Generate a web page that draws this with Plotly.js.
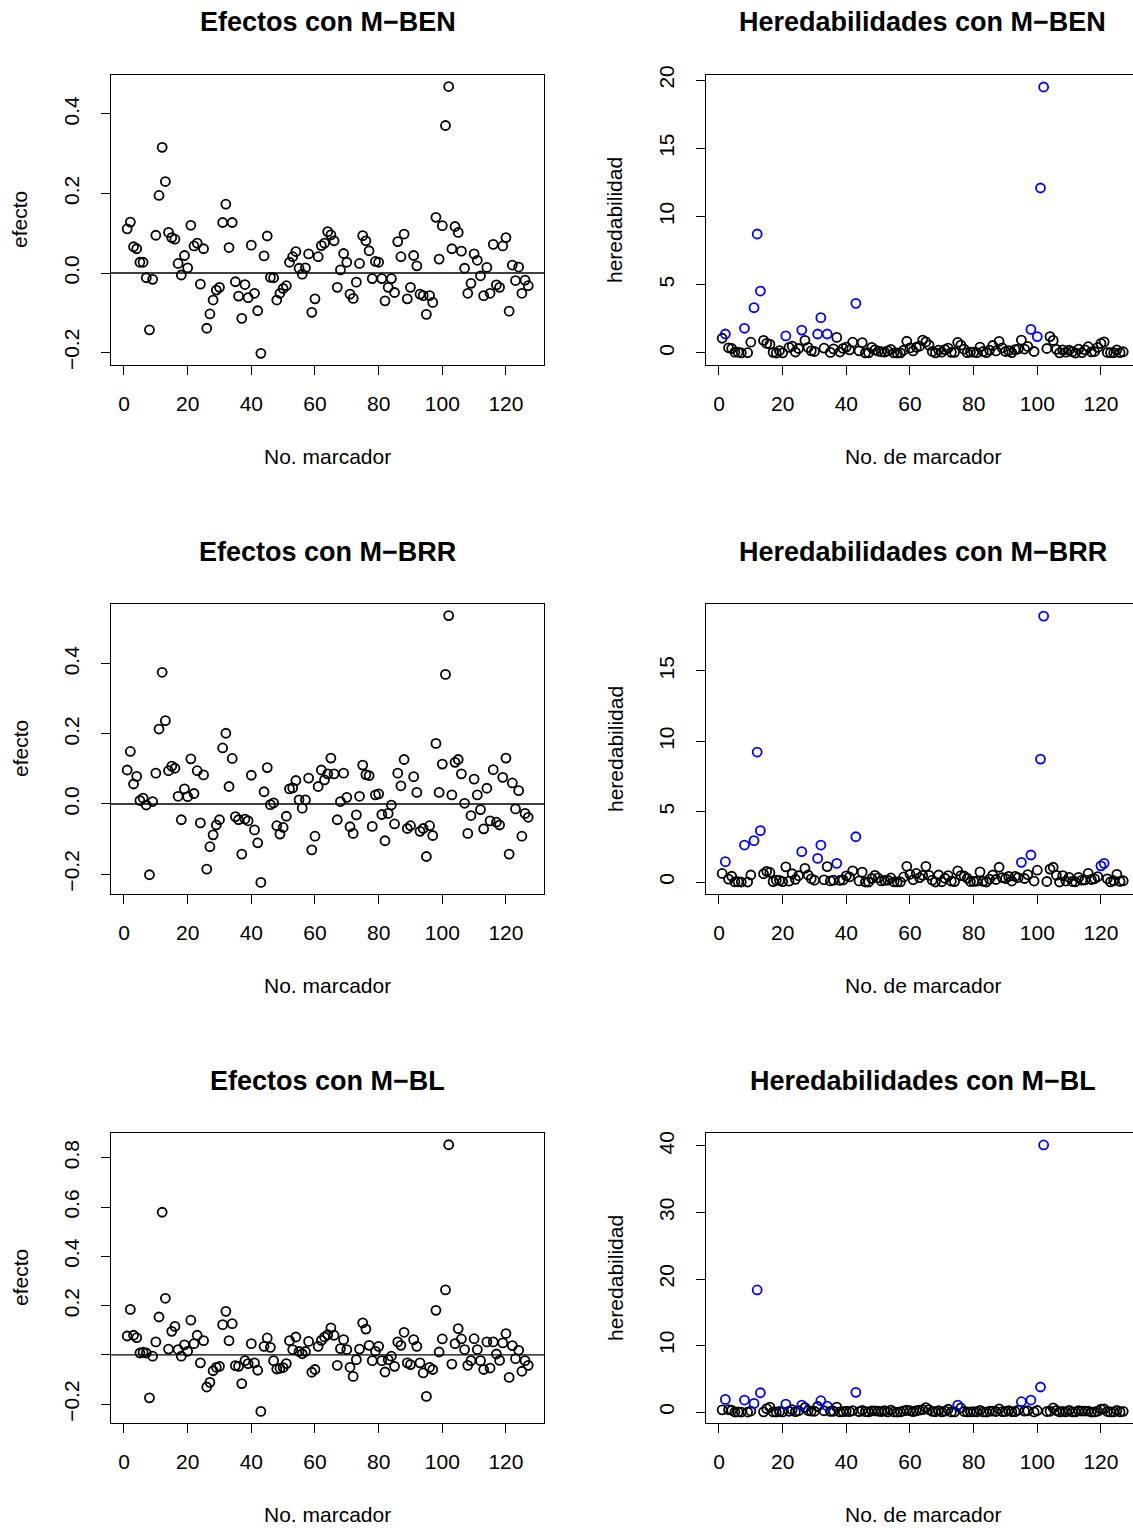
<!DOCTYPE html>
<html><head><meta charset="utf-8">
<script src="https://cdn.plot.ly/plotly-3.0.1.min.js"></script>
<style>body{margin:0;background:#fff}#plot{width:1133px;height:1528px}</style>
</head><body><div id="plot"></div>
<script>
// Marker index (categories)
const nMarcadores = 127;
const marcador = [];
for (let i = 1; i <= nMarcadores; i++) marcador.push(i);

// Effects
const efBEN = [0.111,0.128,0.066,0.061,0.027,0.027,-0.012,-0.143,-0.016,0.095,
0.195,0.316,0.230,0.102,0.089,0.085,0.024,-0.005,0.044,0.013,
0.120,0.068,0.075,-0.028,0.061,-0.139,-0.103,-0.068,-0.043,-0.036,
0.127,0.173,0.064,0.127,-0.022,-0.058,-0.114,-0.029,-0.062,0.070,
-0.051,-0.095,-0.202,0.043,0.093,-0.011,-0.012,-0.068,-0.051,-0.039,
-0.032,0.027,0.041,0.054,0.012,-0.003,0.013,0.048,-0.099,-0.065,
0.041,0.069,0.075,0.104,0.096,0.081,-0.036,0.008,0.049,0.027,
-0.053,-0.064,-0.023,0.024,0.094,0.081,0.056,-0.014,0.029,0.027,
-0.014,-0.070,-0.036,-0.014,-0.049,0.079,0.041,0.098,-0.065,-0.036,
0.044,0.018,-0.053,-0.057,-0.104,-0.057,-0.074,0.140,0.035,0.119,
0.371,0.469,0.061,0.117,0.102,0.055,0.012,-0.051,-0.026,0.048,
0.032,-0.007,-0.057,0.014,-0.051,0.072,-0.030,-0.036,0.068,0.089,
-0.096,0.020,-0.019,0.015,-0.051,-0.018,-0.032];

const efBRR = [0.097,0.150,0.057,0.079,0.010,0.017,-0.003,-0.202,0.007,0.088,
0.214,0.376,0.238,0.095,0.108,0.102,0.022,-0.045,0.043,0.021,
0.129,0.030,0.095,-0.054,0.083,-0.186,-0.122,-0.088,-0.060,-0.045,
0.160,0.202,0.050,0.130,-0.036,-0.045,-0.143,-0.043,-0.048,0.082,
-0.074,-0.111,-0.224,0.035,0.104,-0.002,0.003,-0.062,-0.086,-0.067,
-0.035,0.043,0.046,0.067,0.012,-0.012,0.012,0.074,-0.131,-0.092,
0.050,0.097,0.069,0.086,0.131,0.086,-0.045,0.007,0.088,0.019,
-0.065,-0.084,-0.031,0.022,0.111,0.084,0.081,-0.064,0.026,0.029,
-0.030,-0.105,-0.027,-0.003,-0.057,0.088,0.052,0.127,-0.070,-0.062,
0.078,0.033,-0.078,-0.070,-0.150,-0.062,-0.090,0.173,0.033,0.114,
0.370,0.538,0.026,0.119,0.127,0.086,0.002,-0.084,-0.033,0.071,
0.026,-0.016,-0.071,0.045,-0.048,0.098,-0.052,-0.060,0.076,0.131,
-0.143,0.060,-0.014,0.038,-0.092,-0.027,-0.038];

const efBL = [0.077,0.185,0.080,0.070,0.008,0.011,0.008,-0.174,-0.005,0.053,
0.154,0.579,0.230,0.024,0.096,0.116,0.022,-0.005,0.041,0.015,
0.141,0.046,0.080,-0.032,0.058,-0.130,-0.111,-0.064,-0.050,-0.046,
0.123,0.177,0.058,0.127,-0.043,-0.046,-0.116,-0.023,-0.035,0.046,
-0.032,-0.062,-0.229,0.035,0.069,0.031,-0.023,-0.057,-0.054,-0.051,
-0.035,0.058,0.022,0.073,0.014,0.005,0.014,0.055,-0.070,-0.059,
0.035,0.059,0.073,0.082,0.110,0.080,-0.042,0.026,0.062,0.022,
-0.050,-0.087,-0.019,0.024,0.130,0.105,0.039,-0.023,0.015,0.035,
-0.023,-0.069,-0.019,-0.005,-0.046,0.053,0.039,0.092,-0.032,-0.039,
0.062,0.035,-0.032,-0.073,-0.168,-0.050,-0.059,0.181,0.012,0.065,
0.264,0.853,-0.037,0.046,0.107,0.065,0.022,-0.042,-0.023,0.066,
0.022,-0.023,-0.059,0.053,-0.053,0.053,0.004,-0.022,0.049,0.087,
-0.091,0.038,-0.015,0.019,-0.066,-0.023,-0.042];

// Heritabilities
const hBEN = [1.08,1.39,0.38,0.33,0.06,0.06,0.01,1.81,0.02,0.79,
3.32,8.72,4.54,0.92,0.70,0.64,0.05,0.00,0.17,0.01,
1.25,0.41,0.50,0.07,0.33,1.68,0.93,0.41,0.16,0.11,
1.39,2.59,0.36,1.39,0.04,0.30,1.14,0.07,0.34,0.43,
0.23,0.79,3.64,0.16,0.76,0.01,0.01,0.41,0.23,0.13,
0.09,0.06,0.15,0.26,0.01,0.00,0.01,0.20,0.86,0.37,
0.15,0.42,0.50,0.95,0.81,0.58,0.11,0.01,0.21,0.06,
0.25,0.36,0.05,0.05,0.78,0.58,0.28,0.02,0.07,0.06,
0.02,0.43,0.11,0.02,0.21,0.55,0.15,0.85,0.37,0.11,
0.17,0.03,0.25,0.29,0.95,0.29,0.48,1.73,0.11,1.20,
12.09,19.49,0.33,1.20,0.92,0.27,0.01,0.23,0.06,0.20,
0.09,0.00,0.29,0.02,0.23,0.46,0.08,0.11,0.41,0.70,
0.81,0.04,0.03,0.02,0.23,0.03,0.09];

const hBRR = [0.61,1.45,0.21,0.41,0.01,0.02,0.00,2.63,0.00,0.50,
2.94,9.24,3.65,0.59,0.76,0.68,0.03,0.13,0.12,0.03,
1.08,0.06,0.59,0.19,0.45,2.16,0.97,0.50,0.23,0.13,
1.68,2.63,0.16,1.10,0.08,0.13,1.33,0.12,0.15,0.44,
0.36,0.80,3.22,0.08,0.70,0.00,0.00,0.25,0.48,0.29,
0.08,0.12,0.14,0.29,0.01,0.01,0.01,0.36,1.12,0.55,
0.16,0.61,0.31,0.48,1.12,0.48,0.13,0.00,0.50,0.02,
0.27,0.46,0.06,0.03,0.80,0.46,0.43,0.27,0.04,0.05,
0.06,0.72,0.05,0.00,0.21,0.50,0.18,1.05,0.32,0.25,
0.40,0.07,0.40,0.32,1.40,0.25,0.53,1.92,0.07,0.84,
8.74,18.90,0.04,0.92,1.05,0.48,0.00,0.46,0.07,0.33,
0.04,0.02,0.33,0.13,0.15,0.62,0.18,0.23,0.38,1.15,
1.33,0.23,0.01,0.09,0.55,0.05,0.09];

const hBL = [0.33,1.90,0.35,0.27,0.00,0.01,0.00,1.80,0.00,0.15,
1.30,18.35,2.90,0.03,0.51,0.74,0.03,0.00,0.09,0.01,
1.20,0.12,0.35,0.06,0.19,1.05,0.68,0.23,0.14,0.12,
0.83,1.70,0.19,0.90,0.10,0.12,0.74,0.03,0.07,0.12,
0.06,0.21,2.96,0.07,0.26,0.05,0.03,0.18,0.16,0.14,
0.07,0.19,0.03,0.29,0.01,0.00,0.01,0.17,0.27,0.19,
0.07,0.19,0.29,0.37,0.67,0.35,0.10,0.04,0.21,0.03,
0.14,0.42,0.02,0.03,1.05,0.61,0.08,0.03,0.01,0.07,
0.03,0.26,0.02,0.00,0.12,0.15,0.08,0.47,0.06,0.08,
0.21,0.07,0.06,0.29,1.55,0.14,0.19,1.80,0.01,0.23,
3.76,40.15,0.08,0.12,0.63,0.23,0.03,0.10,0.03,0.24,
0.03,0.03,0.19,0.15,0.15,0.15,0.00,0.03,0.13,0.42,
0.46,0.08,0.01,0.02,0.24,0.03,0.10];

// Highlighted (blue) markers
const destacBEN = [2,8,11,12,13,21,26,31,32,34,43,98,100,101,102];
const destacBRR = [2,8,11,12,13,26,31,32,37,43,95,98,101,102,120,121];
const destacBL  = [2,8,11,12,13,21,26,32,34,43,75,95,98,101,102];

const titulos = ["Efectos con M\u2212BEN","Heredabilidades con M\u2212BEN",
                 "Efectos con M\u2212BRR","Heredabilidades con M\u2212BRR",
                 "Efectos con M\u2212BL","Heredabilidades con M\u2212BL"];
const xTitulos = ["No. marcador","No. de marcador"];
const yTitulos = ["efecto","heredabilidad"];

const xTicks = [0,20,40,60,80,100,120];
const yTicksEf = [[-0.2,0,0.2,0.4],[-0.2,0,0.2,0.4],[-0.2,0,0.2,0.4,0.6,0.8]];
const yTextEf  = [["\u22120.2","0.0","0.2","0.4"],["\u22120.2","0.0","0.2","0.4"],["\u22120.2","","0.2","0.4","0.6","0.8"]];
const yTicksH  = [[0,5,10,15,20],[0,5,10,15],[0,10,20,30,40]];

// ---------- layout geometry ----------
const W = 1133, H = 1528;
const colPx = [[111,544],[706,1133]];
const rowPx = [[75,365],[604,894],[1133,1423]];
const xRanges = [[-4.08,131.95],[-4.08,130.07]];
const yRanges = [[-0.2314,0.498],[-0.88,20.37],[-0.257,0.571],[-0.85,19.76],[-0.276,0.9006],[-1.65,41.95]];

const FONT = "Liberation Sans, Arial, Helvetica, sans-serif";
const BLUE = "#0000FF";

const efectos = [efBEN, efBRR, efBL];
const hereds = [hBEN, hBRR, hBL];
const destacados = [destacBEN, destacBRR, destacBL];

const traces = [];
const layout = {
  width: W, height: H, margin: {l:0,r:0,t:0,b:0},
  paper_bgcolor: "#fff", plot_bgcolor: "#fff",
  showlegend: false, font: {family: FONT, color: "#000", size: 21},
  annotations: [], shapes: []
};

function mk(color) {
  return {symbol: "circle-open", size: 9, color: color, line: {color: color, width: 1.8}};
}

for (let r = 0; r < 3; r++) {
  for (let c = 0; c < 2; c++) {
    const k = r*2 + c + 1;
    const xa = "x" + (k === 1 ? "" : k), ya = "y" + (k === 1 ? "" : k);
    const xd = [colPx[c][0]/W, colPx[c][1]/W];
    const yd = [1 - rowPx[r][1]/H, 1 - rowPx[r][0]/H];
    const common = {
      showgrid: false, zeroline: false, showline: true, linecolor: "#000", linewidth: 1,
      ticks: "outside", ticklen: 9, tickwidth: 1, tickcolor: "#000",
      tickfont: {family: FONT, size: 21, color: "#000"}
    };
    layout["xaxis" + (k === 1 ? "" : k)] = Object.assign({}, common, {
      domain: xd, range: xRanges[c], anchor: ya, mirror: true, ticklabelstandoff: 11,
      tickmode: "array", tickvals: xTicks, ticktext: xTicks.map(String)
    });
    const yax = Object.assign({}, common, {
      domain: yd, range: yRanges[k-1], anchor: xa, mirror: c === 0, tickangle: -90,
      ticklabelstandoff: 14, tickmode: "array"
    });
    if (c === 0) { yax.tickvals = yTicksEf[r]; yax.ticktext = yTextEf[r]; }
    else { yax.tickvals = yTicksH[r]; yax.ticktext = yTicksH[r].map(String); }
    layout["yaxis" + (k === 1 ? "" : k)] = yax;

    if (c === 0) {
      traces.push({type: "scatter", mode: "markers", x: marcador, y: efectos[r],
                   xaxis: xa, yaxis: ya, marker: mk("#000"), hoverinfo: "x+y"});
      layout.shapes.push({type: "line", xref: xa + " domain", yref: ya, x0: 0, x1: 1, y0: 0, y1: 0,
                          line: {color: "#000", width: 1.3}});
    } else {
      const sel = destacados[r];
      const xb = [], yb = [], xs = [], ys = [];
      marcador.forEach((m, i) => {
        if (sel.includes(m)) { xs.push(m); ys.push(hereds[r][i]); }
        else { xb.push(m); yb.push(hereds[r][i]); }
      });
      traces.push({type: "scatter", mode: "markers", x: xb, y: yb, xaxis: xa, yaxis: ya, marker: mk("#000")});
      traces.push({type: "scatter", mode: "markers", x: xs, y: ys, xaxis: xa, yaxis: ya, marker: mk(BLUE)});
    }

    const cx = (colPx[c][0] + (c === 0 ? colPx[c][1] : 1139)) / 2 / W;
    const titleY = [22, 552, 1081][r];
    layout.annotations.push({text: "<b>" + titulos[k-1] + "</b>", xref: "paper", yref: "paper",
      x: cx, y: 1 - titleY/H, xanchor: "center", yanchor: "middle", showarrow: false,
      font: {family: FONT, size: 27, color: "#000"}});
    const xtY = [456, 985, 1514][r];
    layout.annotations.push({text: xTitulos[c], xref: "paper", yref: "paper",
      x: cx, y: 1 - xtY/H, xanchor: "center", yanchor: "middle", showarrow: false,
      font: {family: FONT, size: 21, color: "#000"}});
    const ytX = [20, 615][c];
    layout.annotations.push({text: yTitulos[c], xref: "paper", yref: "paper", textangle: -90,
      x: ytX/W, y: (yd[0]+yd[1])/2, xanchor: "center", yanchor: "middle", showarrow: false,
      font: {family: FONT, size: 21, color: "#000"}});
  }
}

Plotly.newPlot("plot", traces, layout, {displayModeBar: false, staticPlot: true});
</script></body></html>
